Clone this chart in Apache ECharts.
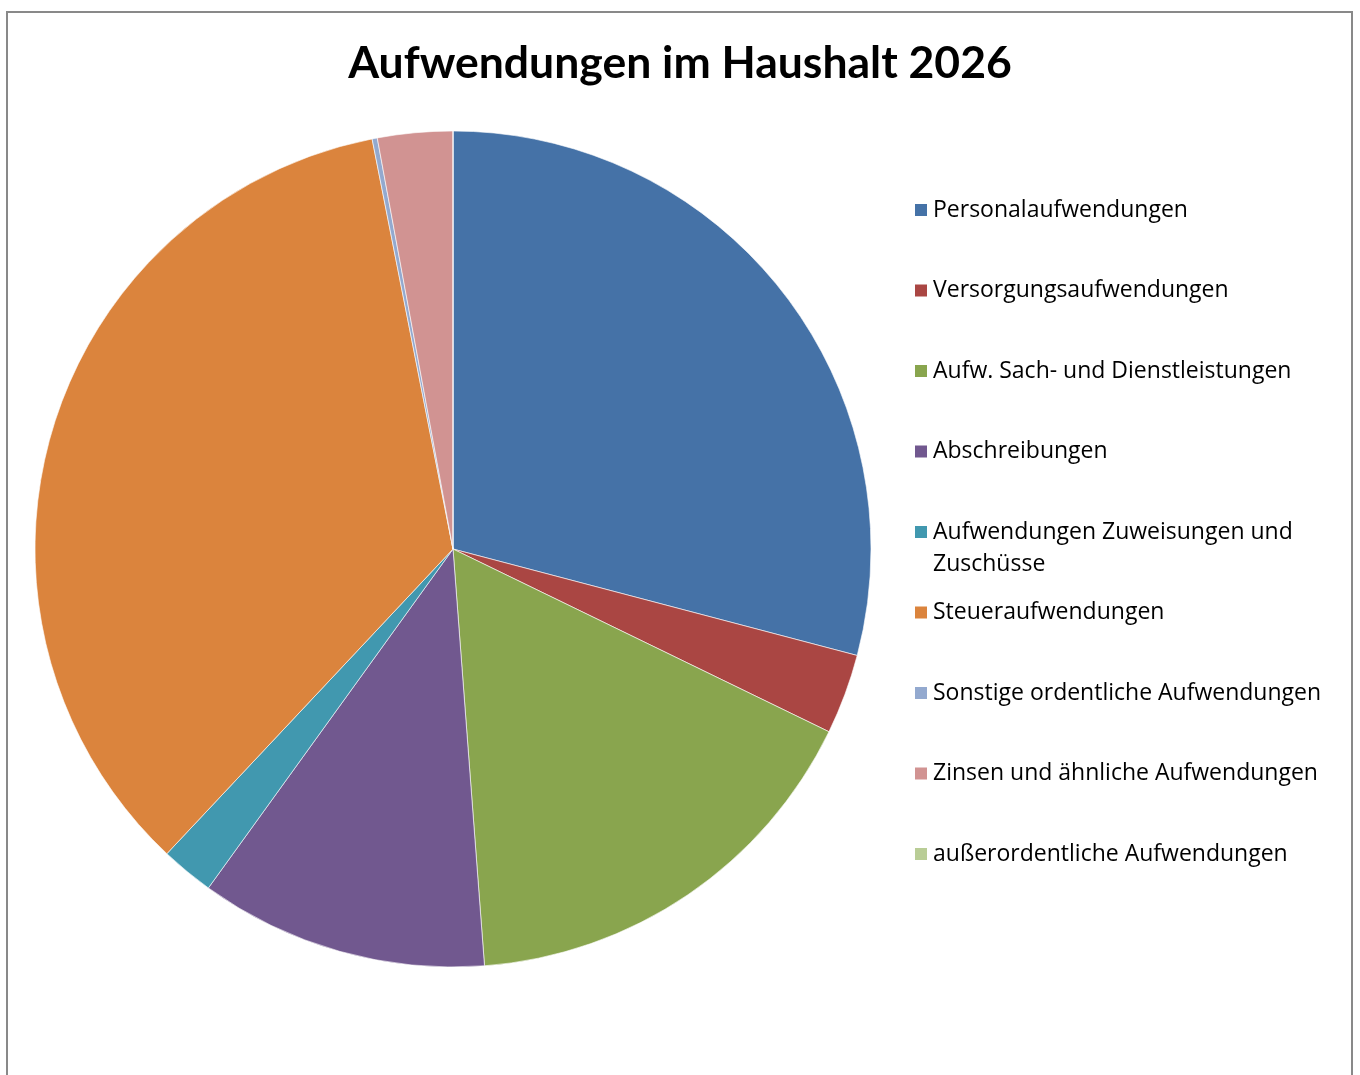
<!DOCTYPE html>
<html>
<head>
<meta charset="utf-8">
<title>Aufwendungen im Haushalt 2026</title>
<script src="https://cdn.jsdelivr.net/npm/echarts@6/dist/echarts.min.js"></script>
<style>
    html, body { margin: 0; padding: 0; background: #fff; }
    #chartArea { width: 1360px; height: 1075px; }
</style>
</head>
<body>
<div id="chartArea"></div>
<script>
// Kategorien und Anteile (in %)
var categories = [
    'Personalaufwendungen',
    'Versorgungsaufwendungen',
    'Aufw. Sach- und Dienstleistungen',
    'Abschreibungen',
    'Aufwendungen Zuweisungen und Zuschüsse',
    'Steueraufwendungen',
    'Sonstige ordentliche Aufwendungen',
    'Zinsen und ähnliche Aufwendungen',
    'außerordentliche Aufwendungen'
];
var values = [29.1, 3.1, 16.6, 11.15, 2.05, 34.9, 0.2, 2.9, 0];
var colors = ['#4572A7', '#AA4643', '#89A54E', '#71588F', '#4198AF', '#DB843D', '#93A9CF', '#D19392', '#B9CD96'];

var dom = document.getElementById('chartArea');
var myChart = echarts.init(dom, null, {renderer: 'canvas'});

var pieData = [];
for (var i = 0; i < categories.length; i++) {
    pieData.push({name: categories[i], value: values[i], itemStyle: {color: colors[i]}});
}

// eine Legende pro Eintrag, damit der Abstand gleich bleibt (auch beim Zeilenumbruch)
var legendCenterY = 210;
var legendStep = 80.5;
var legends = [];
for (var j = 0; j < categories.length; j++) {
    var wrap = categories[j] === 'Aufwendungen Zuweisungen und Zuschüsse';
    var cy = legendCenterY + j * legendStep;
    legends.push({
        data: [categories[j]],
        left: 913,
        top: wrap ? cy - 48 : cy - 16,
        padding: 0,
        itemWidth: 14,
        itemHeight: 14,
        itemGap: 6,
        icon: 'rect',
        selectedMode: false,
        // leere erste Zeile, damit die erste Textzeile neben dem Symbol steht
        formatter: wrap ? function (name) {
            return ' \nAufwendungen Zuweisungen und\nZuschüsse';
        } : '{name}',
        textStyle: {
            fontFamily: 'Open Sans',
            fontSize: 23,
            color: '#000',
            lineHeight: 32
        }
    });
}

var option = {
    animation: false,
    backgroundColor: '#fff',
    title: {
        text: 'Aufwendungen im Haushalt 2026',
        left: 'center',
        top: 36,
        textStyle: {
            fontFamily: 'Lato',
            fontWeight: 'bold',
            fontSize: 44.5,
            color: '#000'
        }
    },
    graphic: [{
        type: 'rect',
        shape: {x: 7, y: 12, width: 1345, height: 1100},
        style: {fill: 'none', stroke: '#898989', lineWidth: 2},
        silent: true
    }],
    legend: legends,
    series: [{
        type: 'pie',
        center: [453, 549],
        radius: 418,
        startAngle: 90,
        clockwise: true,
        stillShowZeroSum: true,
        avoidLabelOverlap: false,
        label: {show: false},
        labelLine: {show: false},
        emphasis: {disabled: true},
        itemStyle: {borderColor: '#fff', borderWidth: 0.6},
        data: pieData
    }]
};

myChart.setOption(option);
</script>
</body>
</html>
